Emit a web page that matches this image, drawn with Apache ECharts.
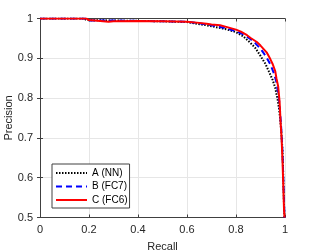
<!DOCTYPE html>
<html><head><meta charset="utf-8">
<script src="https://cdn.jsdelivr.net/npm/echarts@6/dist/echarts.min.js"></script>
<style>html,body{margin:0;padding:0;background:#fff}#c{width:315px;height:252px}</style>
</head><body><div id="c"></div>
<script>
var xTicks = [0, 0.2, 0.4, 0.6, 0.8, 1];
var yTicks = [0.5, 0.6, 0.7, 0.8, 0.9, 1];
var seriesNames = ['A (NN)', 'B (FC7)', 'C (FC6)'];

var recallA = [0, 0.18, 0.19, 0.3, 0.4, 0.5, 0.6, 0.64, 0.68, 0.72, 0.76, 0.8, 0.83, 0.86, 0.88, 0.9, 0.92, 0.935, 0.95, 0.96, 0.97, 0.975, 0.98, 0.985, 0.99, 0.993, 0.996, 0.998];
var precisionA = [1, 1, 0.996, 0.995, 0.994, 0.993, 0.991, 0.987, 0.983, 0.978, 0.973, 0.966, 0.955, 0.938, 0.925, 0.906, 0.886, 0.866, 0.845, 0.826, 0.796, 0.776, 0.75, 0.715, 0.665, 0.6, 0.53, 0.5];

var recallB = [0, 0.19, 0.2, 0.3, 0.4, 0.5, 0.6, 0.65, 0.7, 0.75, 0.8, 0.83, 0.86, 0.88, 0.9, 0.92, 0.94, 0.955, 0.965, 0.975, 0.98, 0.985, 0.99, 0.993, 0.996, 0.998];
var precisionB = [1, 1, 0.995, 0.995, 0.994, 0.993, 0.992, 0.988, 0.983, 0.977, 0.968, 0.96, 0.948, 0.937, 0.924, 0.907, 0.885, 0.862, 0.84, 0.8, 0.765, 0.72, 0.66, 0.6, 0.54, 0.5];

var recallC = [0, 0.19, 0.2, 0.28, 0.3, 0.4, 0.5, 0.6, 0.65, 0.68, 0.7, 0.735, 0.76, 0.8, 0.82, 0.845, 0.86, 0.885, 0.9, 0.925, 0.94, 0.95, 0.96, 0.965, 0.972, 0.978, 0.982, 0.986, 0.99, 0.993, 0.996, 0.998];
var precisionC = [1, 1, 0.996, 0.992, 0.993, 0.994, 0.993, 0.992, 0.989, 0.987, 0.985, 0.983, 0.979, 0.972, 0.967, 0.958, 0.951, 0.941, 0.932, 0.915, 0.898, 0.885, 0.868, 0.85, 0.83, 0.79, 0.74, 0.70, 0.64, 0.58, 0.52, 0.5];

function pairs(xs, ys){ return xs.map(function(x,i){ return [x, ys[i]]; }); }

var font = 'Liberation Sans, Arial, sans-serif';
var axisCol = '#404040';
var chart = echarts.init(document.getElementById('c'), null, {renderer:'canvas'});
function fmt(list){ return function(v){ var t = list.filter(function(k){return Math.abs(k-v)<1e-9;}); return t.length? String(t[0]) : ''; }; }
var tickStyle = {show:true, inside:true, length:3, lineStyle:{color:axisCol}};
var lineSt = {show:true, lineStyle:{color:axisCol, width:1}};
chart.setOption({
  animation:false,
  backgroundColor:'#fff',
  grid:{left:40, right:30, top:18.5, bottom:34.5, containLabel:false, outerBoundsMode:'none'},
  xAxis:[
    {type:'value', min:0, max:1, interval:0.2, position:'bottom',
      axisLine:lineSt, axisTick:tickStyle,
      name:'Recall', nameLocation:'middle', nameGap:24, nameMoveOverlap:false,
      nameTextStyle:{color:'#262626', fontFamily:font, fontSize:11},
      axisLabel:{color:'#262626', fontFamily:font, fontSize:11, margin:7, formatter:fmt(xTicks)},
      splitLine:{show:true, lineStyle:{color:'#e6e6e6', width:1}}},
    {type:'value', min:0, max:1, interval:0.2, position:'top',
      axisLine:lineSt, axisTick:tickStyle, axisLabel:{show:false}, splitLine:{show:false}}
  ],
  yAxis:[
    {type:'value', min:0.5, max:1, interval:0.1, position:'left',
      axisLine:lineSt, axisTick:tickStyle,
      name:'Precision', nameLocation:'middle', nameGap:26, nameMoveOverlap:false,
      nameTextStyle:{color:'#262626', fontFamily:font, fontSize:11},
      axisLabel:{color:'#262626', fontFamily:font, fontSize:11, margin:7, formatter:fmt(yTicks)},
      splitLine:{show:true, lineStyle:{color:'#e6e6e6', width:1}}},
    {type:'value', min:0.5, max:1, interval:0.1, position:'right',
      axisLine:lineSt, axisTick:tickStyle, axisLabel:{show:false}, splitLine:{show:false}}
  ],
  legend:{
    show:true, orient:'vertical', left:52, top:164, padding:[4,2,3,3], itemGap:3.5,
    itemWidth:31, itemHeight:10,
    itemStyle:{opacity:0},
    backgroundColor:'#fff', borderColor:'#404040', borderWidth:1,
    textStyle:{color:'#000', fontFamily:font, fontSize:10},
    data:seriesNames
  },
  series:[
    {name:seriesNames[0], type:'line', data:pairs(recallA, precisionA), symbol:'none',
      lineStyle:{color:'#000', width:2, type:[1.5,1.5]}, itemStyle:{color:'#000'}, z:3},
    {name:seriesNames[1], type:'line', data:pairs(recallB, precisionB), symbol:'none',
      lineStyle:{color:'#0000ff', width:2, type:[6,4]}, itemStyle:{color:'#0000ff'}, z:4},
    {name:seriesNames[2], type:'line', data:pairs(recallC, precisionC), symbol:'none',
      lineStyle:{color:'#ff0000', width:2}, itemStyle:{color:'#ff0000'}, z:5}
  ]
});
</script></body></html>
